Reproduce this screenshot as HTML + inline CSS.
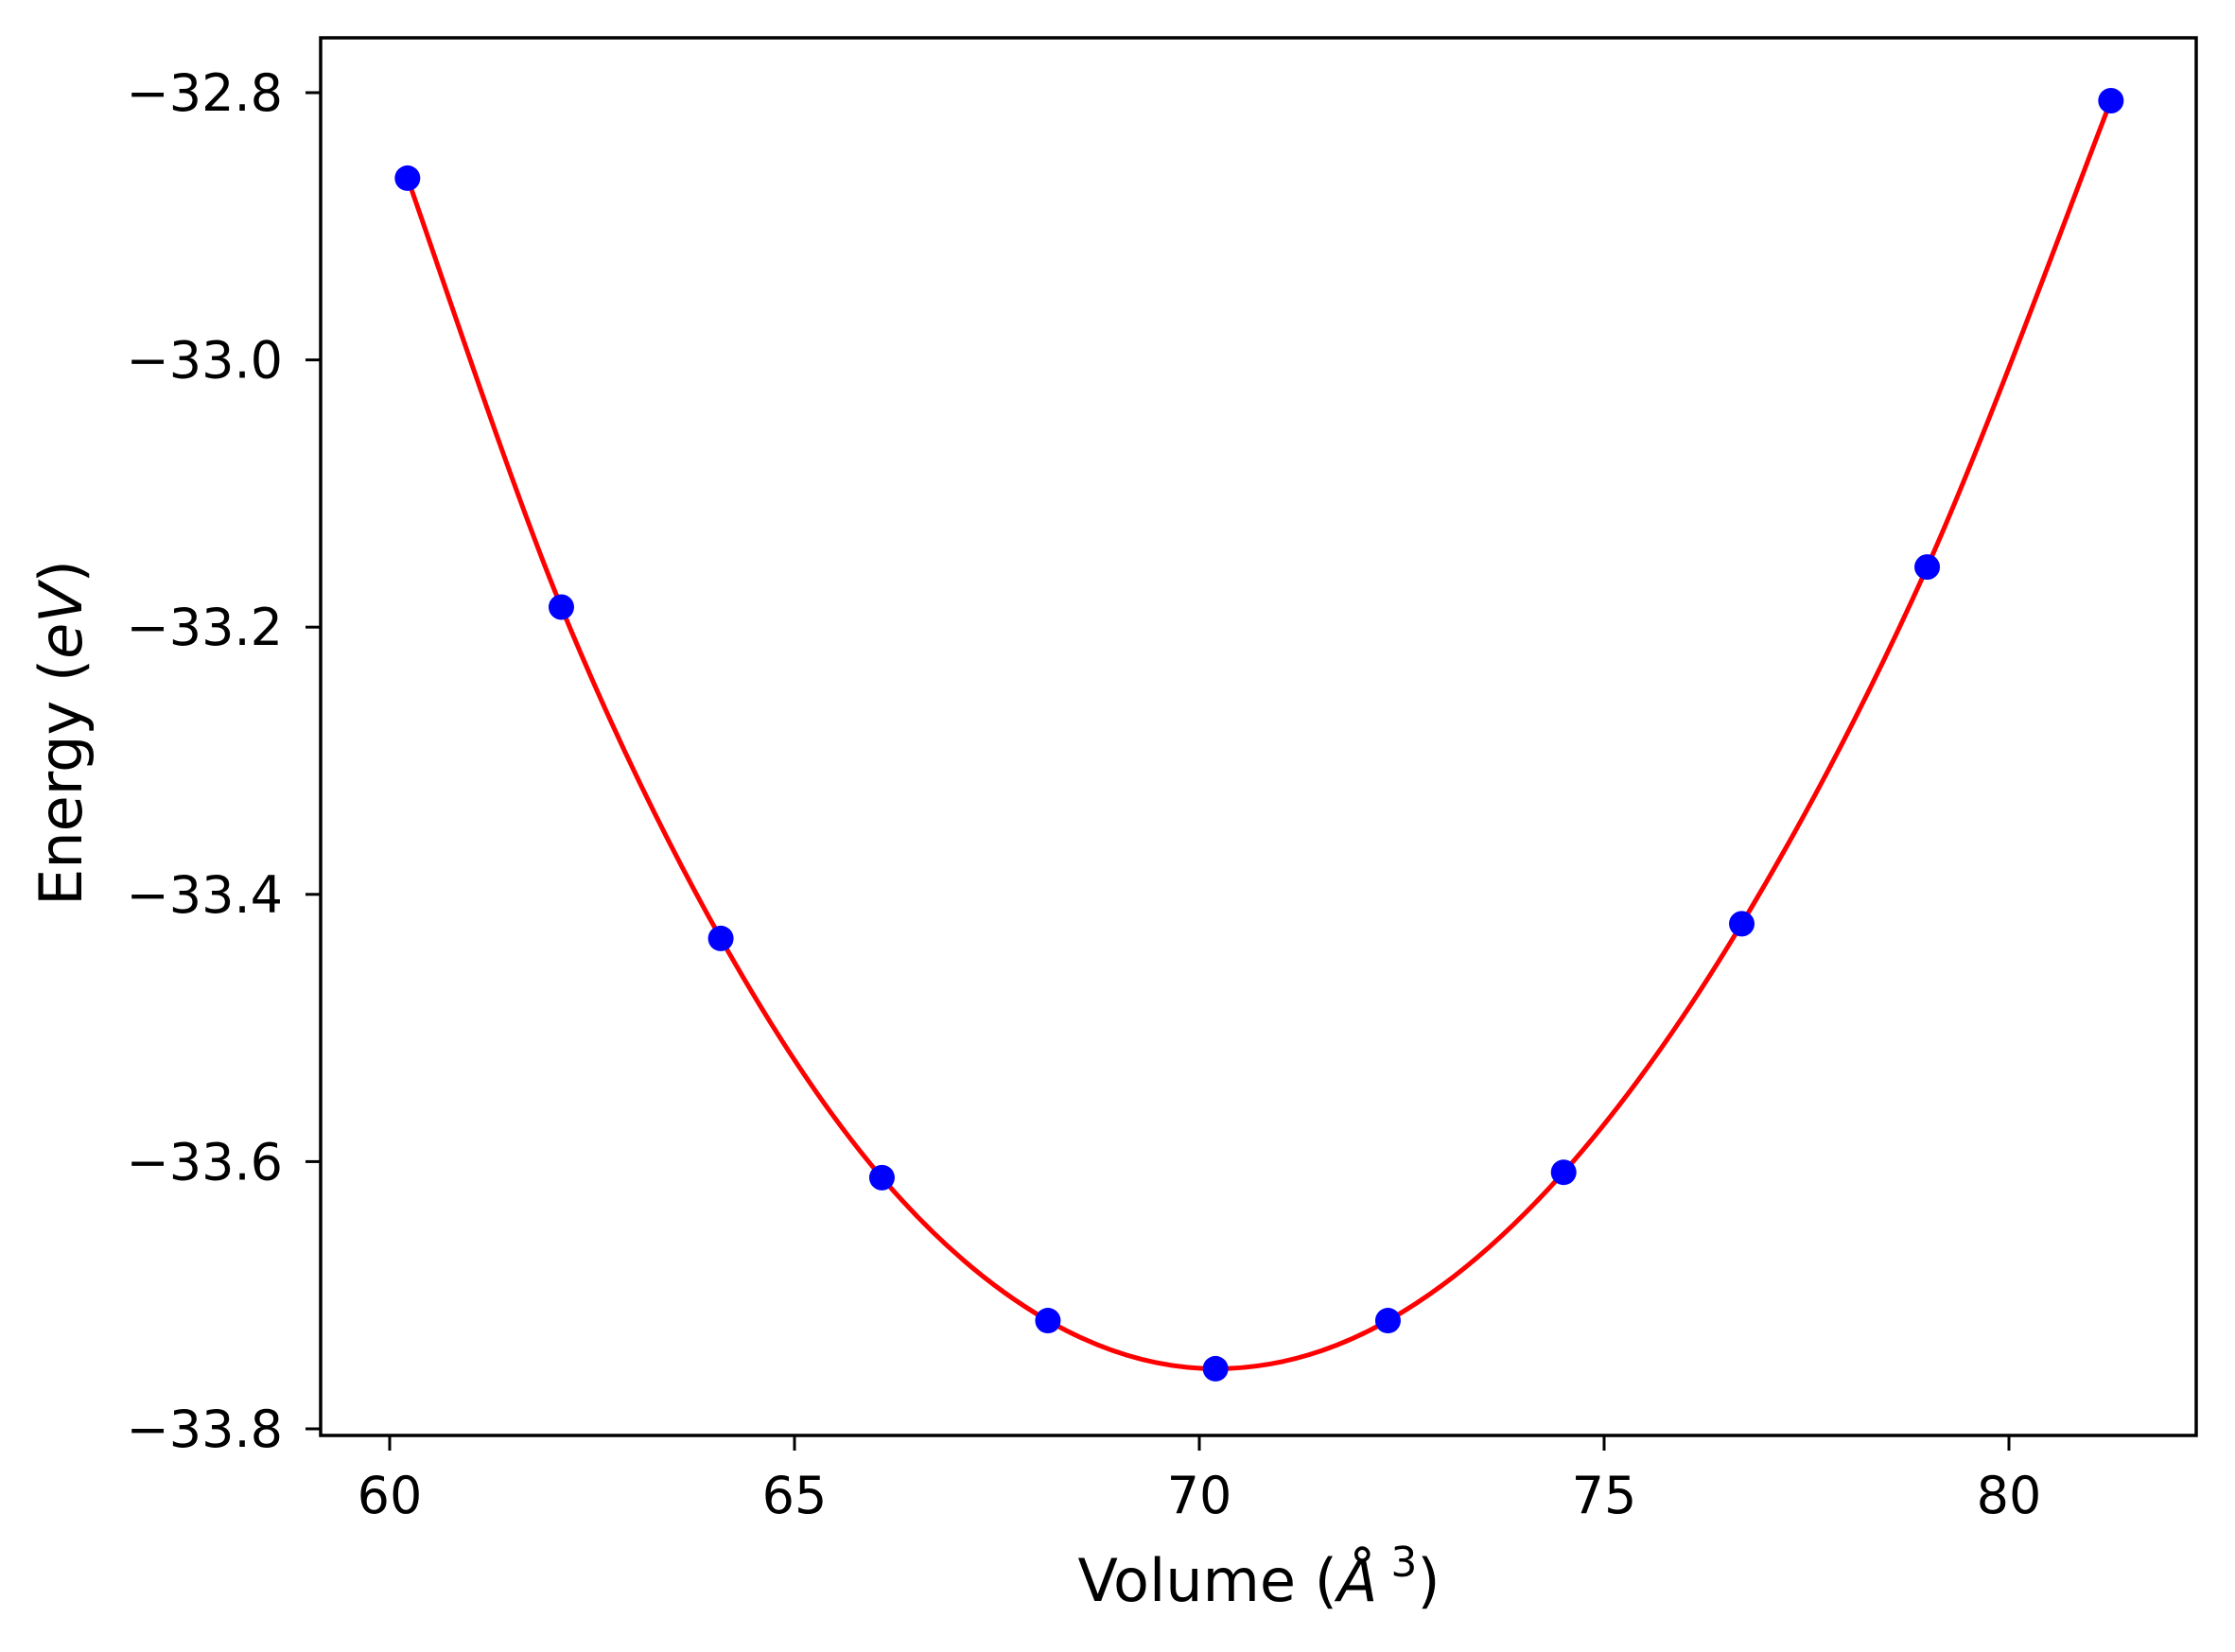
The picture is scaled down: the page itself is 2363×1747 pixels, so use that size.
<!DOCTYPE html>
<html><head><meta charset="utf-8"><style>
html,body{margin:0;padding:0;background:#fff;}
svg{display:block;font-family:"DejaVu Sans","Liberation Sans",sans-serif;}
</style></head><body>
<svg id="chart" width="2363" height="1747" viewBox="0 0 2363 1747" xmlns="http://www.w3.org/2000/svg">
<rect x="0" y="0" width="2363" height="1747" fill="#fff"/>
<g id="plot"></g>
<g id="axes"></g>
<text x="1331" y="1693" font-size="62" text-anchor="middle">Volume (<tspan font-style="italic">Å</tspan><tspan font-size="44" dy="-26"> 3</tspan><tspan dy="26">)</tspan></text>
<text transform="translate(86,775) rotate(-90)" font-size="62" text-anchor="middle">Energy (<tspan font-style="italic">eV</tspan>)</text>
</svg>
<script>
const volumes = [60.22, 62.12, 64.09, 66.08, 68.13, 70.20, 72.33, 74.50, 76.70, 78.99, 81.26];
const energies = [-32.864, -33.185, -33.433, -33.612, -33.719, -33.755, -33.719, -33.608, -33.422, -33.155, -32.806];
const xTicks = [60, 65, 70, 75, 80];
const yTicks = [-32.8, -33.0, -33.2, -33.4, -33.6, -33.8];
const yTickLabels = ["\u221232.8", "\u221233.0", "\u221233.2", "\u221233.4", "\u221233.6", "\u221233.8"];

const NS = "http://www.w3.org/2000/svg";
const L = 339, R = 2322, T = 40, B = 1518;
function sx(v){ return 412 + (v - 60) * 85.6; }
function sy(e){ return 98 + (-32.8 - e) / 0.2 * 282.6; }
function mk(tag, attrs){ const el = document.createElementNS(NS, tag); for (const k in attrs) el.setAttribute(k, attrs[k]); return el; }

const plot = document.getElementById('plot');
const axes = document.getElementById('axes');

// fit curve: smooth Catmull-Rom through data points
let d = "";
const pts = volumes.map((v,i)=>[sx(v), sy(energies[i])]);
d = "M" + pts[0][0] + "," + pts[0][1];
for (let i=0;i<pts.length-1;i++){
  const p0 = pts[Math.max(0,i-1)], p1 = pts[i], p2 = pts[i+1], p3 = pts[Math.min(pts.length-1,i+2)];
  const c1 = [p1[0]+(p2[0]-p0[0])/6, p1[1]+(p2[1]-p0[1])/6];
  const c2 = [p2[0]-(p3[0]-p1[0])/6, p2[1]-(p3[1]-p1[1])/6];
  d += " C" + c1[0] + "," + c1[1] + " " + c2[0] + "," + c2[1] + " " + p2[0] + "," + p2[1];
}
const curve = mk('path', {d: d, fill: 'none', stroke: '#ff0000', 'stroke-width': 5});


plot.appendChild(curve);

volumes.forEach((v,i)=>{
  const c = mk('circle', {cx: sx(v), cy: sy(energies[i]), r: 13.5, fill: '#0000ff'});
  
  
  plot.appendChild(c);
});

const frame = mk('rect', {x: L, y: T, width: R-L, height: B-T, fill: 'none', stroke: '#000', 'stroke-width': 3.5});


axes.appendChild(frame);

xTicks.forEach(t=>{
  const x = sx(t);
  const ln = mk('line', {x1: x, y1: B, x2: x, y2: B+16, stroke: '#000', 'stroke-width': 3});
  
  
  axes.appendChild(ln);
  const tx = mk('text', {x: x, y: 1600, 'font-size': 54, 'text-anchor': 'middle'});
  tx.textContent = String(t);
  
  
  axes.appendChild(tx);
});

yTicks.forEach((t,i)=>{
  const y = sy(t);
  const ln = mk('line', {x1: L-16, y1: y, x2: L, y2: y, stroke: '#000', 'stroke-width': 3});
  
  
  axes.appendChild(ln);
  const tx = mk('text', {x: 299, y: y + 19, 'font-size': 54, 'text-anchor': 'end'});
  tx.textContent = yTickLabels[i];
  
  
  axes.appendChild(tx);
});
</script>
</body></html>
